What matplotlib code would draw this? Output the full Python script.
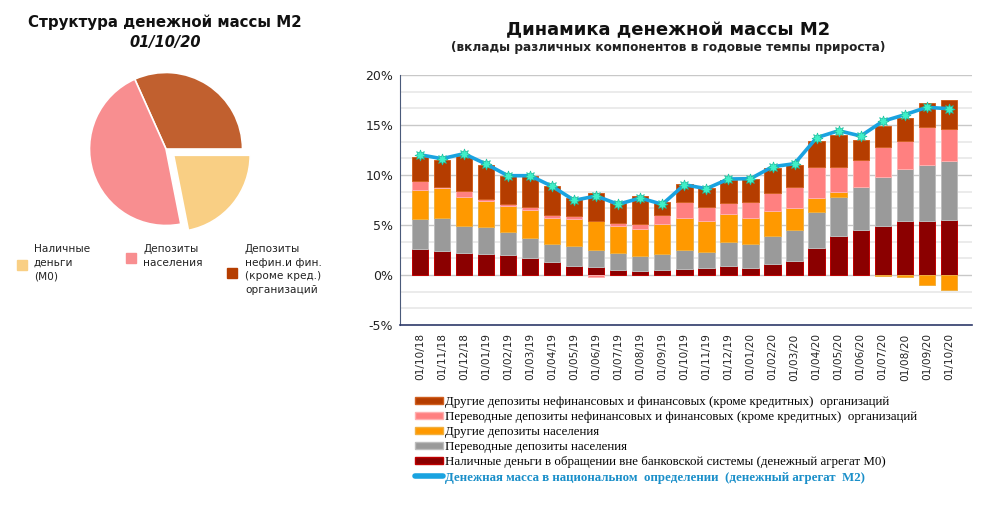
import matplotlib
matplotlib.use("Agg")
import matplotlib.pyplot as plt
from matplotlib.patches import Patch
from matplotlib.lines import Line2D
from matplotlib.ticker import MultipleLocator, FuncFormatter
import numpy as np

# --- data ---
dates = ["01/10/18", "01/11/18", "01/12/18", "01/01/19", "01/02/19", "01/03/19", "01/04/19",
         "01/05/19", "01/06/19", "01/07/19", "01/08/19", "01/09/19", "01/10/19", "01/11/19",
         "01/12/19", "01/01/20", "01/02/20", "01/03/20", "01/04/20", "01/05/20", "01/06/20",
         "01/07/20", "01/08/20", "01/09/20", "01/10/20"]

m0 = [2.6, 2.4, 2.2, 2.1, 2.0, 1.7, 1.3, 0.9, 0.8, 0.5, 0.4, 0.5, 0.6, 0.7, 0.9, 0.7, 1.1,
      1.4, 2.7, 3.9, 4.5, 4.93, 5.4, 5.4, 5.5]
transfer_hh = [2.97, 3.33, 2.7, 2.7, 2.3, 2.0, 1.83, 2.0, 1.7, 1.7, 1.5, 1.6, 1.9, 1.6, 2.4,
               2.43, 2.83, 3.1, 3.6, 3.9, 4.3, 4.87, 5.2, 5.6, 5.9]
other_hh = [2.93, 2.93, 2.9, 2.63, 2.63, 2.83, 2.6, 2.7, 2.9, 2.73, 2.7, 3.0, 3.23, 3.1, 2.83,
            2.6, 2.47, 2.23, 1.43, 0.5, 0.0, -0.05, -0.2, -1.0, -1.47]
transfer_corp = [0.9, 0.17, 0.6, 0.17, 0.17, 0.27, 0.27, 0.3, -0.15, 0.27, 0.5, 0.9, 1.6,
                 1.43, 1.03, 1.57, 1.8, 2.1, 3.03, 2.5, 2.7, 3.0, 2.8, 3.8, 3.2]
other_corp = [2.43, 2.67, 3.5, 3.37, 2.77, 3.1, 2.87, 1.77, 2.83, 1.97, 2.77, 1.27, 1.73,
              1.83, 2.33, 2.3, 2.53, 2.17, 2.6, 3.2, 2.03, 2.13, 2.27, 2.37, 2.93]
m2 = [12.03, 11.63, 12.13, 11.1, 9.93, 9.93, 8.87, 7.47, 7.9, 7.07, 7.7, 7.07, 9.03, 8.63,
      9.6, 9.63, 10.83, 11.13, 13.73, 14.43, 13.9, 15.37, 16.03, 16.77, 16.63]

series_labels = [
    "Наличные деньги в обращении вне банковской системы (денежный агрегат М0)",
    "Переводные депозиты населения",
    "Другие депозиты населения",
    "Переводные депозиты нефинансовых и финансовых (кроме кредитных)  организаций",
    "Другие депозиты нефинансовых и финансовых (кроме кредитных)  организаций",
]
m2_label = "Денежная масса в национальном  определении  (денежный агрегат  М2)"

pie_labels = ["Депозиты\nнефин.и фин.\n(кроме кред.)\nорганизаций", "Депозиты\nнаселения",
              "Наличные\nденьги\n(М0)"]
pie_shares = [31.7, 46.4, 21.9]

# --- styles ---
bar_colors = ["#8b0000", "#9a9a9a", "#ff9900", "#ff8080", "#b53d00"]
bar_edges = ["#c00000", "#bdbdbd", "#f0b040", "#ffb0b0", "#d06020"]
pie_colors = ["#c1602f", "#f88e90", "#f9cf84"]

fig = plt.figure(figsize=(10.04, 5.14), dpi=100)
W, H = 1004, 514

# ---------- left: pie ----------
fig.text(165 / W, 1 - 22 / H, "Структура денежной массы М2", ha="center", va="center",
         fontsize=10.8, fontweight="bold", color="#111111")
fig.text(165 / W, 1 - 43 / H, "01/10/20", ha="center", va="center", fontsize=10.5,
         fontweight="bold", fontstyle="italic", color="#111111")

ax_pie = fig.add_axes([(166 - 90) / W, 1 - (149 + 90) / H, 180 / W, 180 / H])
ax_pie.pie(pie_shares, colors=pie_colors, startangle=0, counterclock=True, radius=0.85,
           explode=[0, 0, 0.11], wedgeprops=dict(edgecolor="white", linewidth=1.2))
ax_pie.set_xlim(-1, 1)
ax_pie.set_ylim(-1, 1)
ax_pie.set_aspect("equal")
ax_pie.axis("off")

leg_items = [(22, 265, 34, pie_labels[2], pie_colors[2]),
             (131, 258, 143, pie_labels[1], pie_colors[1]),
             (232, 273, 245, pie_labels[0], "#b53d00")]
for sx, sy, tx, txt, col in leg_items:
    fig.patches.append(plt.Rectangle((sx / W - 5 / W, 1 - sy / H - 5 / H), 10 / W, 10 / H,
                                     transform=fig.transFigure, color=col))
    fig.text(tx / W, 1 - 244 / H, txt, ha="left", va="top", fontsize=7.6, linespacing=1.45,
             color="#222222")

# ---------- right: stacked bars ----------
ax = fig.add_axes([400 / W, 1 - 325 / H, 572 / W, 250 / H])
x = np.arange(len(dates))
series = [m0, transfer_hh, other_hh, transfer_corp, other_corp]
pos_bottom = np.zeros(len(dates))
neg_bottom = np.zeros(len(dates))
handles = []
for vals, col, ec, lab in zip(series, bar_colors, bar_edges, series_labels):
    v = np.array(vals)
    bottom = np.where(v >= 0, pos_bottom, neg_bottom)
    ax.bar(x, v, 0.74, bottom=bottom, color=col, edgecolor=ec, linewidth=0.7, zorder=3)
    pos_bottom = pos_bottom + np.where(v >= 0, v, 0)
    neg_bottom = neg_bottom + np.where(v < 0, v, 0)
    handles.append(Patch(facecolor=col, edgecolor=ec, label=lab))

ax.plot(x, m2, color="#1aa3e0", linewidth=2.6, zorder=4)
ax.plot(x, m2, linestyle="none", marker=(8, 1, 0), markersize=8, color="#40f0c8",
        markeredgecolor="#20c0a0", markeredgewidth=0.5, zorder=5)

ax.set_xlim(-0.9, 25.05)
ax.set_ylim(-5, 20)
ax.yaxis.set_major_locator(MultipleLocator(5))
ax.yaxis.set_minor_locator(MultipleLocator(5 / 3))
ax.yaxis.set_major_formatter(FuncFormatter(lambda v, p: f"{v:.0f}%"))
ax.grid(axis="y", which="major", color="#c8c8c8", linewidth=1.0, zorder=0)
ax.grid(axis="y", which="minor", color="#e8e8e8", linewidth=1.2, zorder=0)
ax.set_axisbelow(True)
ax.set_xticks(x)
ax.set_xticklabels(dates, rotation=90, fontsize=7.6, color="#222222")
ax.tick_params(axis="both", which="both", length=0)
ax.tick_params(axis="y", labelsize=9, colors="#222222", pad=5)
ax.tick_params(axis="x", pad=6)
for s in ["top", "right"]:
    ax.spines[s].set_visible(False)
ax.spines["left"].set_color("#4a5a7a")
ax.spines["bottom"].set_color("#2e3a6a")
ax.spines["bottom"].set_linewidth(1.2)

fig.text(668 / W, 1 - 30 / H, "Динамика денежной массы М2", ha="center", va="center",
         fontsize=13, fontweight="bold", color="#111111")
fig.text(668 / W, 1 - 48 / H, "(вклады различных компонентов в годовые темпы прироста)",
         ha="center", va="center", fontsize=8.7, fontweight="bold", color="#222222")

leg_handles = handles[::-1] + [Line2D([0], [0], color="#1aa3e0", linewidth=4,
                                      solid_capstyle="round", label=m2_label)]
leg = fig.legend(handles=leg_handles, loc="upper left", bbox_to_anchor=(415 / W, 1 - 396 / H),
                 frameon=False, prop={"family": "Liberation Serif", "size": 9.3},
                 handlelength=2.2, handleheight=0.5, handletextpad=0.1, labelspacing=0.24,
                 borderaxespad=0, borderpad=0)
last = leg.get_texts()[-1]
last.set_color("#1a8fc9")
last.set_fontweight("bold")

fig.savefig("out.png", dpi=100)
